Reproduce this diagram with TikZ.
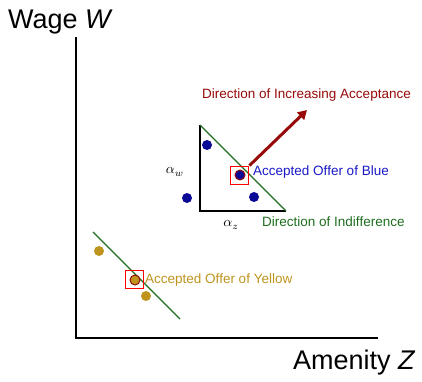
\documentclass[tikz,border=0pt]{standalone}
\usepackage{graphicx}
\usepackage{fontspec}
\setmainfont{Liberation Sans}
\usetikzlibrary{arrows.meta}
\definecolor{dotblue}{RGB}{10,10,150}
\definecolor{txtblue}{RGB}{25,25,200}
\definecolor{indgreen}{RGB}{30,110,30}
\definecolor{accred}{RGB}{150,10,10}
\definecolor{gold}{RGB}{190,148,30}
\tikzset{
  axis/.style={line width=1.5pt, black},
  bdot/.style={circle, fill=dotblue, inner sep=0pt, minimum size=10pt},
  ydot/.style={circle, fill=gold, inner sep=0pt, minimum size=10pt},
  accbdot/.style={bdot, draw=accred, line width=1pt},
  accydot/.style={ydot, draw=accred, line width=1pt},
  selbox/.style={draw=red, line width=0.9pt, minimum size=18pt, inner sep=0pt},
  lbl/.style={font=\fontsize{13.5}{15}\selectfont, inner sep=0pt, anchor=west},
  axlbl/.style={font=\fontsize{27}{30}\selectfont, inner sep=0pt},
  mathlbl/.style={inner sep=0pt},
  indiff/.style={indgreen, line width=1.2pt},
}
\begin{document}
\begin{tikzpicture}[x=1pt,y=-1pt]
\useasboundingbox (0,0) rectangle (422,381);
% axes
\coordinate (ytop) at (76,37);
\coordinate (origin) at (76,338);
\coordinate (xend) at (378,338);
\draw[axis] (ytop) -- (origin) -- (xend);
\node[axlbl, anchor=base west] (ylab) at (8,28) {Wage \textit{W}};
\node[axlbl, anchor=base west] (xlab) at (293,369) {Amenity \textit{Z}};
% triangle
\coordinate (ttop) at (200,125);
\coordinate (tcorner) at (200,211);
\coordinate (tright) at (286,211);
\draw[line width=2pt, black] (ttop) -- (tcorner) -- (tright);
\draw[indiff] (ttop) -- (tright);
\node[mathlbl] (aw) at (175,172) {\scalebox{1.4}{$\alpha_w$}};
\node[mathlbl] (az) at (231,225) {\scalebox{1.4}{$\alpha_z$}};
% blue dots
\node[bdot] (b1) at (207,145) {};
\node[bdot] (b2) at (187,198) {};
\node[bdot] (b3) at (254,197) {};
\node[accbdot] (b4) at (240,175) {};
\node[selbox] (bbox) at (239,175) {};
\coordinate (arrtip) at (307,110);
\draw[accred, line width=3pt, -{Triangle[length=9pt,width=10pt]}] (bbox.north east) ++(1,0) -- (arrtip);
\node[lbl, text=accred] (inc) at (202,95) {Direction of Increasing Acceptance};
\node[lbl, text=txtblue] (blue) at (253,172) {Accepted Offer of Blue};
\node[lbl, text=indgreen] (ind) at (262,222) {Direction of Indifference};
% yellow
\coordinate (ya) at (93,232);
\coordinate (yb) at (180,319);
\draw[indiff] (ya) -- (yb);
\node[ydot] (y1) at (99,251) {};
\node[ydot] (y3) at (146,296) {};
\node[accydot] (y2) at (135,280) {};
\node[selbox] (ybox) at (134.5,279) {};
\node[lbl, text=gold] (yel) at (145,280) {Accepted Offer of Yellow};
\end{tikzpicture}
\end{document}
